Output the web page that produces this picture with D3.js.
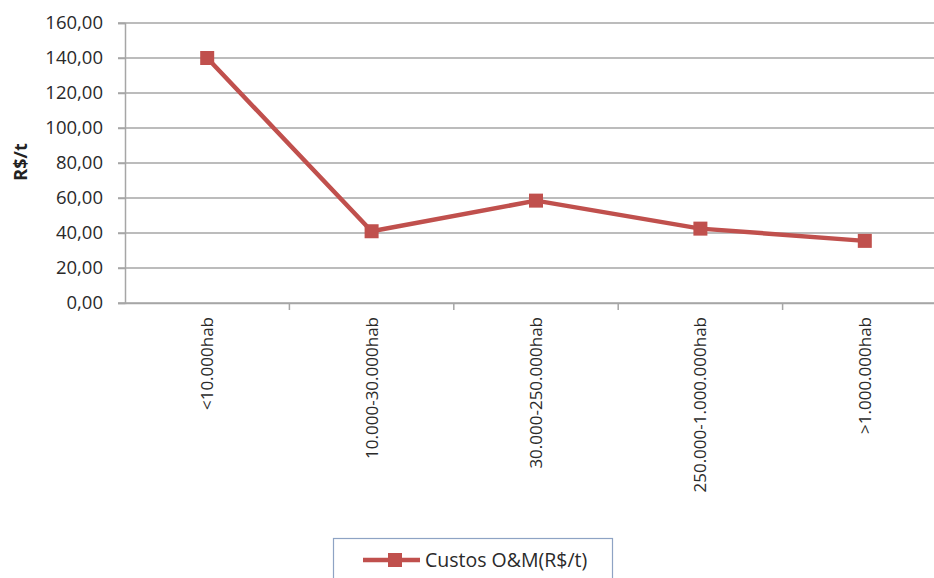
<!DOCTYPE html>
<html><head><meta charset="utf-8">
<script src="https://cdn.jsdelivr.net/npm/d3@7"></script>
<style>body{margin:0;background:#fff;} svg{display:block;}</style>
</head><body>
<svg id="c" width="934" height="578"></svg>
<script>
const categories = ["<10.000hab","10.000-30.000hab","30.000-250.000hab","250.000-1.000.000hab",">1.000.000hab"];
const values = [140, 41, 58.5, 42.5, 35.5];
const yTicks = [0,20,40,60,80,100,120,140,160];
const seriesName = "Custos O&M(R$/t)";
const yLabel = "R$/t";

(function(){
const svg = d3.select("#c");
const mLeft = 125, mRight = 947, mTop = 23, mBottom = 303;
const font = "'Open Sans', 'Liberation Sans', sans-serif";
const x = d3.scaleBand().domain(categories).range([mLeft, mRight]);
const y = d3.scaleLinear().domain([0,160]).range([mBottom, mTop]);
const fmt = v => d3.format(".2f")(v).replace(".", ",");
const red = "#c0504d";
const grid = "#a6a6a6";

// gridlines
svg.append("g").selectAll("line").data(yTicks).join("line")
  .attr("x1", mLeft - 7).attr("x2", mRight)
  .attr("y1", d => y(d)).attr("y2", d => y(d))
  .attr("stroke", grid).attr("stroke-width", 1.5);

// y axis
const ya = svg.append("g").attr("transform", `translate(${mLeft},0)`)
  .call(d3.axisLeft(y).tickValues(yTicks).tickFormat(fmt).tickSize(7).tickPadding(15));
ya.select(".domain").attr("stroke", grid).attr("stroke-width", 1.5);
ya.selectAll(".tick line").attr("stroke", grid).attr("stroke-width", 1.5);
ya.selectAll("text").attr("font-family", font).attr("font-size", 18.5).attr("fill", "#2a2a2a");

// x axis
const xa = svg.append("g").attr("transform", `translate(0,${mBottom})`)
  .call(d3.axisBottom(x).tickSize(0).tickPadding(0));
xa.select(".domain").attr("stroke", grid).attr("stroke-width", 1.5);
xa.selectAll("text").attr("font-family", font).attr("font-size", 17).attr("fill", "#2a2a2a")
  .attr("text-anchor", "end").attr("transform", "translate(0,14) rotate(-90)")
  .attr("dy", "0.35em").attr("x", 0).attr("y", 0);
// category boundary ticks
svg.append("g").selectAll("line").data(categories.slice(1)).join("line")
  .attr("x1", d => x(d)).attr("x2", d => x(d))
  .attr("y1", mBottom).attr("y2", mBottom + 7)
  .attr("stroke", grid).attr("stroke-width", 1.5);

// y label
svg.append("text").attr("transform", `translate(21,162) rotate(-90)`)
  .attr("text-anchor", "middle").attr("dy", "0.35em").attr("font-family", font).attr("font-weight", "bold")
  .attr("font-size", 18).attr("fill", "#222").text(yLabel);

// line
const cx = i => x(categories[i]) + x.bandwidth()/2;
svg.append("path").datum(values.map((v,i)=>[cx(i), y(v)]))
  .attr("d", d3.line()).attr("fill", "none").attr("stroke", red).attr("stroke-width", 4.5)
  .attr("stroke-linejoin", "round");
svg.append("g").selectAll("rect").data(values).join("rect")
  .attr("x", (d,i) => cx(i) - 7).attr("y", d => y(d) - 7)
  .attr("width", 14).attr("height", 14).attr("fill", red);

// legend
const lg = svg.append("g");
lg.append("rect").attr("x", 333.5).attr("y", 538.5).attr("width", 279).attr("height", 50)
  .attr("fill", "#fff").attr("stroke", "#8ea3c4").attr("stroke-width", 1.2);
lg.append("line").attr("x1", 363).attr("x2", 420).attr("y1", 560).attr("y2", 560)
  .attr("stroke", red).attr("stroke-width", 4.5);
lg.append("rect").attr("x", 388).attr("y", 553).attr("width", 14).attr("height", 14).attr("fill", red);
lg.append("text").attr("x", 425).attr("y", 560).attr("dy", "0.35em")
  .attr("font-family", font).attr("font-size", 19.5).attr("fill", "#2a2a2a").text(seriesName);
})();
</script>
</body></html>
